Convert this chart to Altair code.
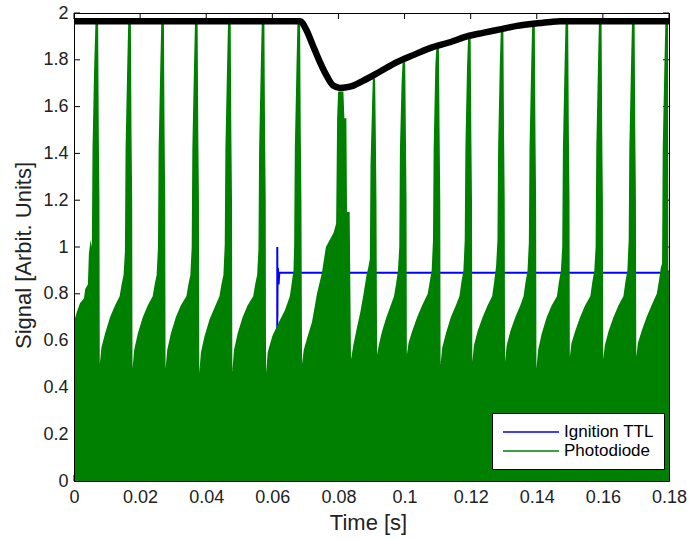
import altair as alt
import pandas as pd

# ---------------- data ----------------
X_TICKS = [0.0, 0.02, 0.04, 0.06, 0.08, 0.10, 0.12, 0.14, 0.16, 0.18]
Y_TICKS = [0.0, 0.2, 0.4, 0.6, 0.8, 1.0, 1.2, 1.4, 1.6, 1.8, 2.0]
SERIES = ["Ignition TTL", "Photodiode"]
COLORS = ["#0000ff", "#008000"]

# Ignition TTL (blue)
TTL_T = [0.0, 0.06148, 0.0615, 0.06153, 0.06158, 0.0617, 0.0619, 0.0621, 0.0624, 0.18]
TTL_V = [0.0, 0.0, 1.00, 0.70, 0.89, 0.91, 0.84, 0.89, 0.89, 0.89]

# Photodiode upper envelope (green), one row per flash cycle
PD_T = [
    0.0000, 0.0008, 0.0018, 0.0030, 0.0034, 0.0042, 0.0045, 0.0050, 0.0054, 0.0056, 0.0061, 0.0065, 0.0073, 0.0075, 0.0077,
    0.0078, 0.0083, 0.0094, 0.0109, 0.0124, 0.0138, 0.0144, 0.0150, 0.0154, 0.0156, 0.0161, 0.0164, 0.0172, 0.0174, 0.0176,
    0.0177, 0.0182, 0.0193, 0.0208, 0.0223, 0.0238, 0.0244, 0.0250, 0.0254, 0.0256, 0.0261, 0.0264, 0.0272, 0.0274, 0.0276,
    0.0277, 0.0282, 0.0293, 0.0308, 0.0323, 0.0340, 0.0346, 0.0352, 0.0356, 0.0358, 0.0363, 0.0366, 0.0374, 0.0376, 0.0378,
    0.0379, 0.0384, 0.0395, 0.0410, 0.0425, 0.0440, 0.0446, 0.0452, 0.0456, 0.0458, 0.0463, 0.0466, 0.0474, 0.0476, 0.0478,
    0.0479, 0.0484, 0.0495, 0.0510, 0.0525, 0.0542, 0.0548, 0.0554, 0.0558, 0.0560, 0.0565, 0.0568, 0.0576, 0.0578, 0.0580,
    0.0581, 0.0586, 0.0600, 0.0620, 0.0638, 0.0653, 0.0660, 0.0664, 0.0666, 0.0668, 0.0673, 0.0676, 0.0684, 0.0686, 0.0688,
    0.0690, 0.0695, 0.0705, 0.0720, 0.0735, 0.0750, 0.0762, 0.0785, 0.0793, 0.0796, 0.0799, 0.0815, 0.0818, 0.0824, 0.0826, 0.0834,
    0.0838, 0.0845, 0.0855, 0.0866, 0.0876, 0.0885, 0.0890, 0.0895, 0.0897, 0.0902, 0.0904, 0.0911, 0.0913, 0.0915,
    0.0917, 0.0922, 0.0932, 0.0945, 0.0958, 0.0968, 0.0974, 0.0980, 0.0984, 0.0986, 0.0991, 0.0994, 0.1002, 0.1004, 0.1006,
    0.1007, 0.1012, 0.1023, 0.1038, 0.1053, 0.1070, 0.1076, 0.1082, 0.1086, 0.1088, 0.1093, 0.1096, 0.1104, 0.1106, 0.1108,
    0.1109, 0.1114, 0.1125, 0.1140, 0.1155, 0.1166, 0.1172, 0.1178, 0.1182, 0.1184, 0.1189, 0.1192, 0.1200, 0.1202, 0.1204,
    0.1205, 0.1210, 0.1221, 0.1236, 0.1251, 0.1265, 0.1271, 0.1277, 0.1281, 0.1283, 0.1288, 0.1291, 0.1299, 0.1301, 0.1303,
    0.1304, 0.1309, 0.1320, 0.1335, 0.1350, 0.1360, 0.1366, 0.1372, 0.1376, 0.1378, 0.1383, 0.1386, 0.1394, 0.1396, 0.1398,
    0.1399, 0.1404, 0.1415, 0.1430, 0.1445, 0.1461, 0.1467, 0.1473, 0.1477, 0.1479, 0.1484, 0.1487, 0.1495, 0.1497, 0.1499,
    0.1500, 0.1505, 0.1516, 0.1531, 0.1546, 0.1562, 0.1568, 0.1574, 0.1578, 0.1580, 0.1585, 0.1588, 0.1596, 0.1598, 0.1600,
    0.1601, 0.1606, 0.1617, 0.1632, 0.1647, 0.1662, 0.1668, 0.1674, 0.1678, 0.1680, 0.1685, 0.1688, 0.1696, 0.1698, 0.1700,
    0.1701, 0.1706, 0.1717, 0.1732, 0.1747, 0.1763, 0.1769, 0.1775, 0.1779, 0.1781, 0.1786, 0.1789, 0.1797, 0.1798, 0.1800,
]
PD_V = [
    0.68, 0.72, 0.76, 0.78, 0.82, 0.84, 0.97, 1.03, 1.00, 1.42, 1.77, 1.96, 1.96, 1.49, 1.20,
    0.50, 0.57, 0.63, 0.70, 0.75, 0.79, 0.84, 0.88, 0.98, 1.42, 1.77, 1.96, 1.96, 1.49, 1.20,
    0.48, 0.56, 0.63, 0.70, 0.75, 0.79, 0.84, 0.88, 1.00, 1.42, 1.77, 1.96, 1.96, 1.49, 1.20,
    0.48, 0.56, 0.63, 0.70, 0.75, 0.79, 0.84, 0.88, 1.00, 1.42, 1.77, 1.96, 1.96, 1.49, 1.20,
    0.46, 0.55, 0.62, 0.69, 0.74, 0.79, 0.84, 0.88, 1.01, 1.42, 1.77, 1.96, 1.96, 1.49, 1.20,
    0.47, 0.56, 0.63, 0.70, 0.75, 0.79, 0.84, 0.88, 0.99, 1.42, 1.77, 1.96, 1.96, 1.49, 1.20,
    0.46, 0.55, 0.62, 0.68, 0.73, 0.79, 0.86, 0.90, 1.01, 1.42, 1.77, 1.96, 1.96, 1.49, 1.20,
    0.50, 0.56, 0.61, 0.68, 0.80, 0.89, 1.00, 1.06, 1.10, 1.55, 1.665, 1.665, 1.55, 1.55, 1.15, 1.15,
    0.52, 0.58, 0.65, 0.72, 0.80, 0.88, 0.91, 0.95, 1.35, 1.62, 1.72, 1.72, 1.49, 1.20,
    0.54, 0.58, 0.64, 0.70, 0.75, 0.79, 0.84, 0.90, 1.00, 1.42, 1.70, 1.79, 1.79, 1.49, 1.20,
    0.54, 0.59, 0.64, 0.70, 0.75, 0.80, 0.85, 0.90, 1.03, 1.42, 1.77, 1.85, 1.85, 1.49, 1.20,
    0.50, 0.57, 0.63, 0.70, 0.75, 0.79, 0.85, 0.90, 1.03, 1.42, 1.77, 1.89, 1.89, 1.49, 1.20,
    0.51, 0.58, 0.64, 0.70, 0.75, 0.79, 0.85, 0.92, 1.03, 1.42, 1.77, 1.92, 1.92, 1.49, 1.20,
    0.51, 0.58, 0.64, 0.70, 0.75, 0.79, 0.85, 0.90, 1.02, 1.42, 1.77, 1.945, 1.945, 1.49, 1.20,
    0.48, 0.56, 0.63, 0.70, 0.75, 0.79, 0.85, 0.90, 1.00, 1.42, 1.77, 1.96, 1.96, 1.49, 1.20,
    0.53, 0.59, 0.64, 0.70, 0.75, 0.79, 0.85, 0.90, 1.00, 1.42, 1.77, 1.96, 1.96, 1.49, 1.20,
    0.52, 0.58, 0.64, 0.70, 0.75, 0.79, 0.85, 0.90, 1.03, 1.42, 1.77, 1.96, 1.96, 1.49, 1.20,
    0.53, 0.59, 0.64, 0.70, 0.75, 0.80, 0.85, 0.91, 0.93, 1.42, 1.77, 1.96, 1.96, 0.90, 0.90,
]

# Peak-tracking curve (thick black)
ENV_T = [0.0, 0.0684, 0.0702, 0.0723, 0.0744, 0.0765, 0.0784, 0.0805, 0.0835, 0.0874, 0.0926,
         0.0977, 0.1026, 0.1077, 0.1137, 0.1189, 0.1237, 0.1289, 0.1340, 0.1395, 0.1440, 0.1470, 0.1800]
ENV_V = [1.965, 1.965, 1.93, 1.86, 1.79, 1.73, 1.69, 1.68, 1.685, 1.71, 1.75,
         1.79, 1.82, 1.85, 1.875, 1.90, 1.915, 1.93, 1.945, 1.955, 1.962, 1.965, 1.965]

assert len(PD_T) == len(PD_V)

# ---------------- chart ----------------
W, H = 595, 468
FONT = "Liberation Sans"
TXT = "#222222"

xs = alt.Scale(domain=[0, 0.18], nice=False, zero=False)
ys = alt.Scale(domain=[0, 2], nice=False, zero=False)

xaxis = alt.Axis(values=X_TICKS, format="~g", title="Time [s]", tickSize=0, grid=False,
                 labelPadding=7, labelFontSize=18, labelFont=FONT, labelColor=TXT,
                 labelFlush=False, labelOverlap=False,
                 titleFontSize=22, titleFont=FONT, titleFontWeight="normal", titleColor=TXT,
                 titleX=294, titleY=31, titleBaseline="top",
                 domainColor="black", domainWidth=1, zindex=1)
yaxis = alt.Axis(values=Y_TICKS, format="~g", title="Signal [Arbit. Units]", tickSize=0, grid=False,
                 labelPadding=6, labelFontSize=18, labelFont=FONT, labelColor=TXT,
                 labelFlush=False, labelOverlap=False,
                 titleFontSize=22, titleFont=FONT, titleFontWeight="normal", titleColor=TXT,
                 titleX=-39, titleY=242, titleAngle=270, titleBaseline="bottom",
                 domainColor="black", domainWidth=1, zindex=1)

X = alt.X("t:Q", scale=xs, axis=xaxis)
Y = alt.Y("v:Q", scale=ys, axis=yaxis)

ytick_df = pd.DataFrame({"v": Y_TICKS})
xtick_df = pd.DataFrame({"t": X_TICKS})
TL = 6
left_ticks = alt.Chart(ytick_df).mark_rule(color="black", strokeWidth=1).encode(
    y=Y, x=alt.value(0), x2=alt.value(TL))
right_ticks = alt.Chart(ytick_df).mark_rule(color="black", strokeWidth=1).encode(
    y=Y, x=alt.value(W - TL), x2=alt.value(W))
top_ticks = alt.Chart(xtick_df).mark_rule(color="black", strokeWidth=1).encode(
    x=X, y=alt.value(0), y2=alt.value(TL))
bottom_ticks = alt.Chart(xtick_df).mark_rule(color="black", strokeWidth=1).encode(
    x=X, y=alt.value(H - TL), y2=alt.value(H))

ttl_df = pd.DataFrame({"t": TTL_T, "v": TTL_V, "series": SERIES[0], "i": range(len(TTL_T))})
pd_df = pd.DataFrame({"t": PD_T, "v": PD_V})
env_df = pd.DataFrame({"t": ENV_T, "v": ENV_V})

# long horizontal legend line (path scaled by sqrt(size)/2 = 8 -> 56 px)
legend = alt.Legend(title=None, orient="none", legendX=418, legendY=400,
                    symbolType="M-3.5,0H3.5", symbolSize=256, symbolStrokeWidth=1.5,
                    symbolOffset=20,
                    labelFontSize=17, labelFont=FONT, labelColor="black",
                    fillColor="white", strokeColor="black", padding=10, rowPadding=2,
                    labelOffset=24)

ttl_line = alt.Chart(ttl_df).mark_line(strokeWidth=2).encode(
    x=X, y=Y,
    color=alt.Color("series:N", scale=alt.Scale(domain=SERIES, range=COLORS), legend=legend),
    order=alt.Order("i:Q"))

pd_area = alt.Chart(pd_df).mark_area(color=COLORS[1], opacity=1).encode(x=X, y=Y)

env_line = alt.Chart(env_df).mark_line(color="black", strokeWidth=6.5, interpolate="monotone").encode(x=X, y=Y)

chart = alt.layer(left_ticks, right_ticks, top_ticks, bottom_ticks, ttl_line, pd_area, env_line).properties(
    width=W, height=H,
    autosize=alt.AutoSizeParams(type="none"),
    padding={"left": 74, "top": 13, "right": 22, "bottom": 60},
    background="white",
).configure_view(stroke="black", strokeWidth=1)

chart.save("out.html", embed_options={"renderer": "svg", "actions": False})
